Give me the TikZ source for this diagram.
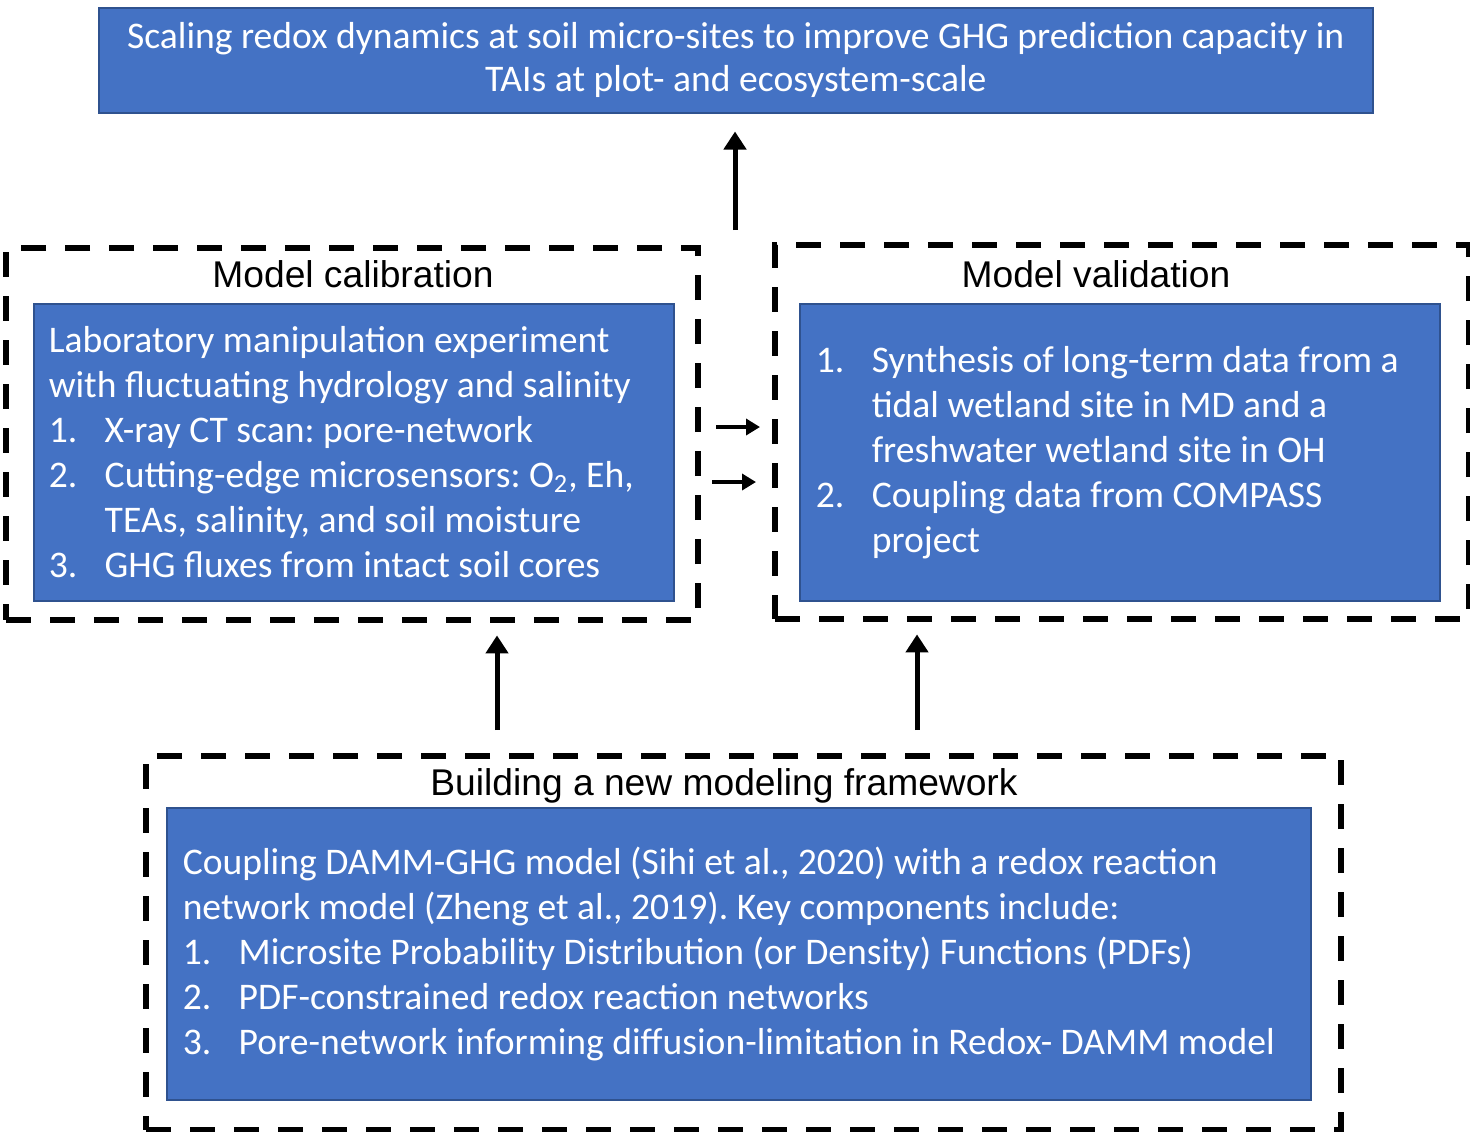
\documentclass[tikz,border=0pt]{standalone}
\usepackage{fontspec}
\setmainfont{Carlito}
\newfontfamily\arialfont{Liberation Sans}
\usetikzlibrary{arrows.meta,positioning}
\definecolor{boxblue}{HTML}{4472C4}
\definecolor{edgeblue}{HTML}{2F528F}
\newcommand{\itemno}[1]{\makebox[28pt][l]{#1}}
\newcommand{\itemgap}{\hspace*{28pt}}
\frenchspacing
\tikzset{
  basic/.style    = {draw=edgeblue, line width=0.75pt, fill=boxblue, text=white,
                     font=\fontsize{18.8}{22.5}\selectfont, rectangle},
  goal/.style     = {basic, align=flush center, inner sep=0pt},
  panel/.style    = {basic, align=flush left, inner xsep=7.5pt, inner ysep=0pt},
  dashbox/.style  = {draw=black, line width=3.2pt, dash pattern=on 12.5pt off 9.5pt,
                     rectangle, inner sep=0pt},
  title/.style    = {font=\arialfont\fontsize{18.6}{22}\selectfont, inner sep=0pt},
  bigarrow/.style = {line width=2.5pt, -{Triangle[length=9pt,width=11pt]}},
  smallarrow/.style = {line width=2pt, -{Triangle[length=7pt,width=8pt]}}
}

\begin{document}
\begin{tikzpicture}[x=0.5pt,y=-0.5pt]
\useasboundingbox (0,0) rectangle (1470,1131);

% goal on top
\node[goal, anchor=north west, minimum width=637pt, minimum height=52.5pt,
      text width=637pt] (goal) at (98,7)
  {\raisebox{-1pt}{Scaling redox dynamics at soil micro-sites to improve GHG prediction capacity in}\\
   TAIs at plot- and ecosystem-scale};

% the two dashed frames of the middle row
\node[dashbox, anchor=north west, minimum width=346pt, minimum height=186pt] (calframe) at (3,245) {};
\node[dashbox, anchor=north west, minimum width=347pt, minimum height=187pt] (valframe) at (772,242) {};
\node[title] (caltitle) at (353,274) {Model calibration};
\node[title] (valtitle) at (1096,274) {Model validation};

\node[panel, anchor=north west, minimum height=148.5pt, text width=305pt] (cal) at (33,303)
  {Laboratory manipulation experiment\\
   with fluctuating hydrology and salinity\\
   \itemno{1.}X-ray CT scan: pore-network\\
   \itemno{2.}Cutting-edge microsensors: O\textsubscript{2}, Eh,\\
   \itemgap TEAs, salinity, and soil moisture\\
   \itemno{3.}GHG fluxes from intact soil cores};

\node[panel, anchor=north west, minimum height=148.5pt, text width=304pt, inner xsep=8pt] (val) at (799,303)
  {\itemno{1.}Synthesis of long-term data from a\\
   \itemgap tidal wetland site in MD and a\\
   \itemgap freshwater wetland site in OH\\
   \itemno{2.}Coupling data from COMPASS\\
   \itemgap project};

% the framework at the bottom
\node[dashbox, anchor=north west, minimum width=597.5pt, minimum height=187pt] (buildframe) at (143,753) {};
\node[title] (buildtitle) at (724,786) {Building a new modeling framework};

\node[panel, anchor=north west, minimum height=146pt, text width=556pt, inner xsep=8pt] (build) at (166,807)
  {Coupling DAMM-GHG model (Sihi et al., 2020) with a redox reaction\\
   network model (Zheng et al., 2019). Key components include:\\
   \itemno{1.}Microsite Probability Distribution (or Density) Functions (PDFs)\\
   \itemno{2.}PDF-constrained redox reaction networks\\
   \itemno{3.}Pore-network informing diffusion-limitation in Redox- DAMM model};

% connectors
\coordinate (up0) at (735,230);
\coordinate (up1) at (497,730);
\coordinate (up2) at (917,730);
\draw[bigarrow, shorten >=9pt] (up0) -- (up0 |- goal.south);
\draw[bigarrow, shorten >=6pt] (up1) -- (up1 |- calframe.south);
\draw[bigarrow, shorten >=6pt] (up2) -- (up2 |- valframe.south);

\coordinate (side1) at (716,427);
\coordinate (side2) at (712,482);
\draw[smallarrow, shorten >=6pt] (side1) -- (side1 -| valframe.west);
\draw[smallarrow, shorten >=8pt] (side2) -- (side2 -| valframe.west);
\end{tikzpicture}
\end{document}
